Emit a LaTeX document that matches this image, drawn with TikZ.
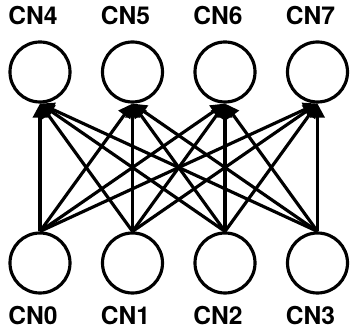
\documentclass[tikz,border=0pt]{standalone}
\usepackage{fontspec}
\setmainfont{TeX Gyre Heros}
\usetikzlibrary{arrows.meta, positioning}

\begin{document}
\begin{tikzpicture}[node distance=1.85cm,on grid,>={Triangle[length=8pt,width=8pt]},
        line width=1.8pt,
        unit/.style={circle,draw,minimum size=1.2cm,inner sep=0pt},
        tag/.style={font=\fontsize{14}{16}\selectfont\bfseries,inner sep=0pt}]
    \useasboundingbox (-0.8,-1.3) rectangle (6.22,5.26);

    % input layer
    \node[unit] (cn0) {};
    \node[unit] (cn1) [right=of cn0] {};
    \node[unit] (cn2) [right=of cn1] {};
    \node[unit] (cn3) [right=of cn2] {};

    % output layer
    \node[unit] (cn4) [above=3.82cm of cn0] {};
    \node[unit] (cn5) [right=of cn4] {};
    \node[unit] (cn6) [right=of cn5] {};
    \node[unit] (cn7) [right=of cn6] {};

    \node[tag] (l0) [below=1.06cm of cn0, xshift=-0.14cm] {CN0};
    \node[tag] (l1) [below=1.06cm of cn1, xshift=-0.14cm] {CN1};
    \node[tag] (l2) [below=1.06cm of cn2, xshift=-0.14cm] {CN2};
    \node[tag] (l3) [below=1.06cm of cn3, xshift=-0.14cm] {CN3};
    \node[tag] (l4) [above=1.12cm of cn4, xshift=-0.14cm] {CN4};
    \node[tag] (l5) [above=1.12cm of cn5, xshift=-0.14cm] {CN5};
    \node[tag] (l6) [above=1.12cm of cn6, xshift=-0.14cm] {CN6};
    \node[tag] (l7) [above=1.12cm of cn7, xshift=-0.14cm] {CN7};

    \path[->] (cn0.north) edge (cn4.south) edge (cn5.south) edge (cn6.south) edge (cn7.south);
    \path[->] (cn1.north) edge (cn4.south) edge (cn5.south) edge (cn6.south) edge (cn7.south);
    \path[->] (cn2.north) edge (cn4.south) edge (cn5.south) edge (cn6.south) edge (cn7.south);
    \path[->] (cn3.north) edge (cn4.south) edge (cn5.south) edge (cn6.south) edge (cn7.south);
\end{tikzpicture}
\end{document}
